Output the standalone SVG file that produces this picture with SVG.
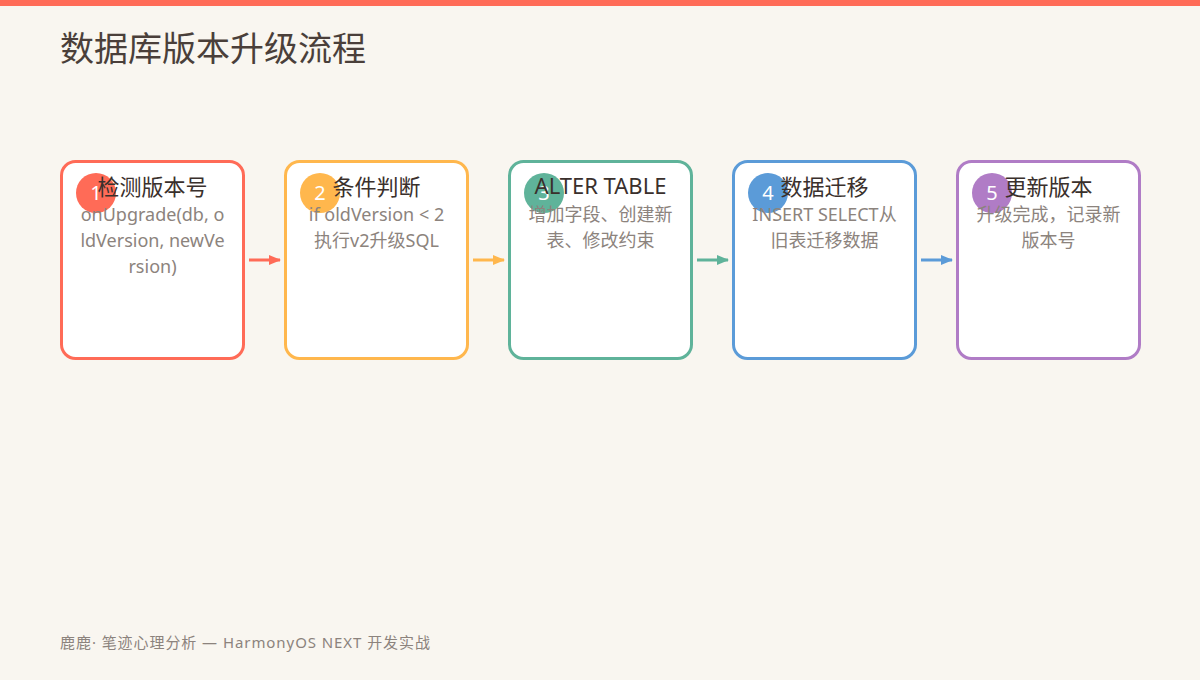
<svg xmlns="http://www.w3.org/2000/svg" width="1200" height="680" viewBox="0 0 1200 680">
<style>
text{font-family:"Noto Sans","Noto Sans CJK SC",sans-serif}
.box{fill:#ffffff;stroke-width:3}
.num{fill:#ffffff;font-size:20px;text-anchor:middle}
.ttl{fill:#3a302c;font-size:22px;text-anchor:middle}
.sub{fill:#8c837d;font-size:18px;text-anchor:middle}
.conn{stroke-width:3;fill:none}
</style>
<defs>
<marker id="aR" markerWidth="12" markerHeight="10" refX="11" refY="5" orient="auto" markerUnits="userSpaceOnUse"><path d="M0,0 L12,5 L0,10 Z" fill="#FF6B57"/></marker>
<marker id="aO" markerWidth="12" markerHeight="10" refX="11" refY="5" orient="auto" markerUnits="userSpaceOnUse"><path d="M0,0 L12,5 L0,10 Z" fill="#FFB74D"/></marker>
<marker id="aG" markerWidth="12" markerHeight="10" refX="11" refY="5" orient="auto" markerUnits="userSpaceOnUse"><path d="M0,0 L12,5 L0,10 Z" fill="#5FB39A"/></marker>
<marker id="aB" markerWidth="12" markerHeight="10" refX="11" refY="5" orient="auto" markerUnits="userSpaceOnUse"><path d="M0,0 L12,5 L0,10 Z" fill="#5B9BD8"/></marker>
</defs>
<rect x="0" y="0" width="1200" height="680" fill="#F9F6F0"/>
<rect x="0" y="0" width="1200" height="6" fill="#FF6B57"/>
<text x="60" y="61" font-size="34" fill="#4a3f3a">数据库版本升级流程</text>

<g id="connectors">
<line class="conn" x1="249" y1="260" x2="280" y2="260" stroke="#FF6B57" marker-end="url(#aR)"/>
<line class="conn" x1="473" y1="260" x2="504" y2="260" stroke="#FFB74D" marker-end="url(#aO)"/>
<line class="conn" x1="697" y1="260" x2="728" y2="260" stroke="#5FB39A" marker-end="url(#aG)"/>
<line class="conn" x1="921" y1="260" x2="952" y2="260" stroke="#5B9BD8" marker-end="url(#aB)"/>
</g>

<g id="node1">
<rect class="box" x="61.5" y="161.5" width="182" height="197" rx="14" stroke="#FF6B57"/>
<circle cx="96" cy="193" r="20" fill="#FF6B57"/>
<text class="num" x="96" y="200">1</text>
<text class="ttl" x="152.5" y="195">检测版本号</text>
<text class="sub" x="152.5" y="221">onUpgrade(db, o</text>
<text class="sub" x="152.5" y="247">ldVersion, newVe</text>
<text class="sub" x="152.5" y="273">rsion)</text>
</g>

<g id="node2">
<rect class="box" x="285.5" y="161.5" width="182" height="197" rx="14" stroke="#FFB74D"/>
<circle cx="320" cy="193" r="20" fill="#FFB74D"/>
<text class="num" x="320" y="200">2</text>
<text class="ttl" x="376.5" y="195">条件判断</text>
<text class="sub" x="376.5" y="221">if oldVersion &lt; 2</text>
<text class="sub" x="376.5" y="247">执行v2升级SQL</text>
</g>

<g id="node3">
<rect class="box" x="509.5" y="161.5" width="182" height="197" rx="14" stroke="#5FB39A"/>
<circle cx="544" cy="193" r="20" fill="#5FB39A"/>
<text class="num" x="544" y="200">3</text>
<text class="ttl" x="600.5" y="194">ALTER TABLE</text>
<text class="sub" x="600.5" y="221">增加字段、创建新</text>
<text class="sub" x="600.5" y="247">表、修改约束</text>
</g>

<g id="node4">
<rect class="box" x="733.5" y="161.5" width="182" height="197" rx="14" stroke="#5B9BD8"/>
<circle cx="768" cy="193" r="20" fill="#5B9BD8"/>
<text class="num" x="768" y="200">4</text>
<text class="ttl" x="824.5" y="195">数据迁移</text>
<text class="sub" x="824.5" y="221">INSERT SELECT从</text>
<text class="sub" x="824.5" y="247">旧表迁移数据</text>
</g>

<g id="node5">
<rect class="box" x="957.5" y="161.5" width="182" height="197" rx="14" stroke="#B07CC6"/>
<circle cx="992" cy="193" r="20" fill="#B07CC6"/>
<text class="num" x="992" y="200">5</text>
<text class="ttl" x="1048.5" y="195">更新版本</text>
<text class="sub" x="1048.5" y="221">升级完成，记录新</text>
<text class="sub" x="1048.5" y="247">版本号</text>
</g>

<text x="60" y="648" font-size="15" fill="#8c837d" textLength="370" lengthAdjust="spacing">鹿鹿·  笔迹心理分析 — HarmonyOS NEXT 开发实战</text>
</svg>
